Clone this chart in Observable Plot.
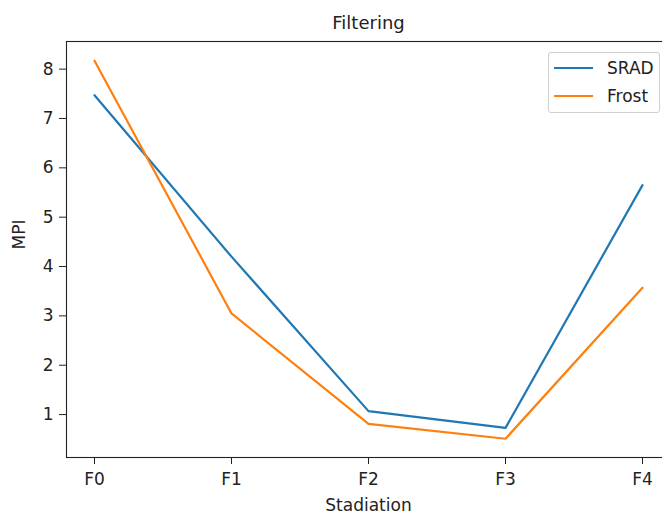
<!DOCTYPE html>
<html>
<head>
<meta charset="utf-8">
<script src="https://cdn.jsdelivr.net/npm/d3@7"></script>
<script src="https://cdn.jsdelivr.net/npm/@observablehq/plot@0.6"></script>
<style>
  html, body { margin: 0; padding: 0; background: #fff; }
  #wrap { position: relative; width: 662px; height: 518px; overflow: hidden; font-family: "DejaVu Sans", sans-serif; }
  #wrap svg { max-width: none !important; }
  #legend { position: absolute; left: 548px; top: 52px; width: 112px; height: 61px;
    border: 1px solid #d0d0d0; border-radius: 3px; background: rgba(255,255,255,0.85); box-sizing: border-box; }
  .row { position: absolute; left: 0; height: 20px; }
  .swatch { position: absolute; left: 5px; width: 39px; height: 2.2px; }
  .lab { position: absolute; left: 58px; font-size: 17px; color: #222; line-height: 20px; }
</style>
</head>
<body>
<div id="wrap"></div>
<script>
const stages = ["F0", "F1", "F2", "F3", "F4"];
const srad = [7.47, 4.2, 1.07, 0.73, 5.65];
const frost = [8.17, 3.05, 0.81, 0.51, 3.57];
const seriesNames = ["SRAD", "Frost"];
const seriesColors = ["#1f77b4", "#ff7f0e"];
const yTicks = [1, 2, 3, 4, 5, 6, 7, 8];

const rows = [];
stages.forEach((s, i) => {
  rows.push({stage: s, value: srad[i], series: seriesNames[0]});
  rows.push({stage: s, value: frost[i], series: seriesNames[1]});
});

const plot = Plot.plot({
  width: 671,
  height: 518,
  marginTop: 41,
  marginBottom: 61,
  marginLeft: 66,
  marginRight: 1,
  style: {fontFamily: "DejaVu Sans, sans-serif", fontSize: "17px", color: "#222", background: "#fff", maxWidth: "none"},
  x: {type: "point", domain: stages, padding: 0.2, label: null, tickSize: 7, tickPadding: 8},
  y: {domain: [0.13, 8.56], ticks: yTicks, tickFormat: d => String(d), label: null, tickSize: 7, tickPadding: 6},
  color: {domain: seriesNames, range: seriesColors},
  marks: [
    Plot.frame({stroke: "#222", strokeWidth: 1.1}),
    Plot.lineY(rows, {x: "stage", y: "value", stroke: "series", strokeWidth: 2.2}),
    Plot.text(["Filtering"], {frameAnchor: "top", dy: -25, fontSize: 18, fill: "#222"}),
    Plot.text(["Stadiation"], {frameAnchor: "bottom", dy: 53, fontSize: 17, fill: "#222"}),
    Plot.text(["MPI"], {frameAnchor: "left", dx: -47, rotate: -90, fontSize: 17, fill: "#222"})
  ]
});
plot.style.maxWidth = "none";

const wrap = document.getElementById("wrap");
wrap.appendChild(plot);

const legend = document.createElement("div");
legend.id = "legend";
seriesNames.forEach((name, i) => {
  const row = document.createElement("div");
  row.className = "row";
  row.style.top = (5 + i * 28) + "px";
  row.style.width = "100%";
  const sw = document.createElement("div");
  sw.className = "swatch";
  sw.style.top = "9px";
  sw.style.background = seriesColors[i];
  const lab = document.createElement("div");
  lab.className = "lab";
  lab.textContent = name;
  row.appendChild(sw);
  row.appendChild(lab);
  legend.appendChild(row);
});
wrap.appendChild(legend);
</script>
</body>
</html>
